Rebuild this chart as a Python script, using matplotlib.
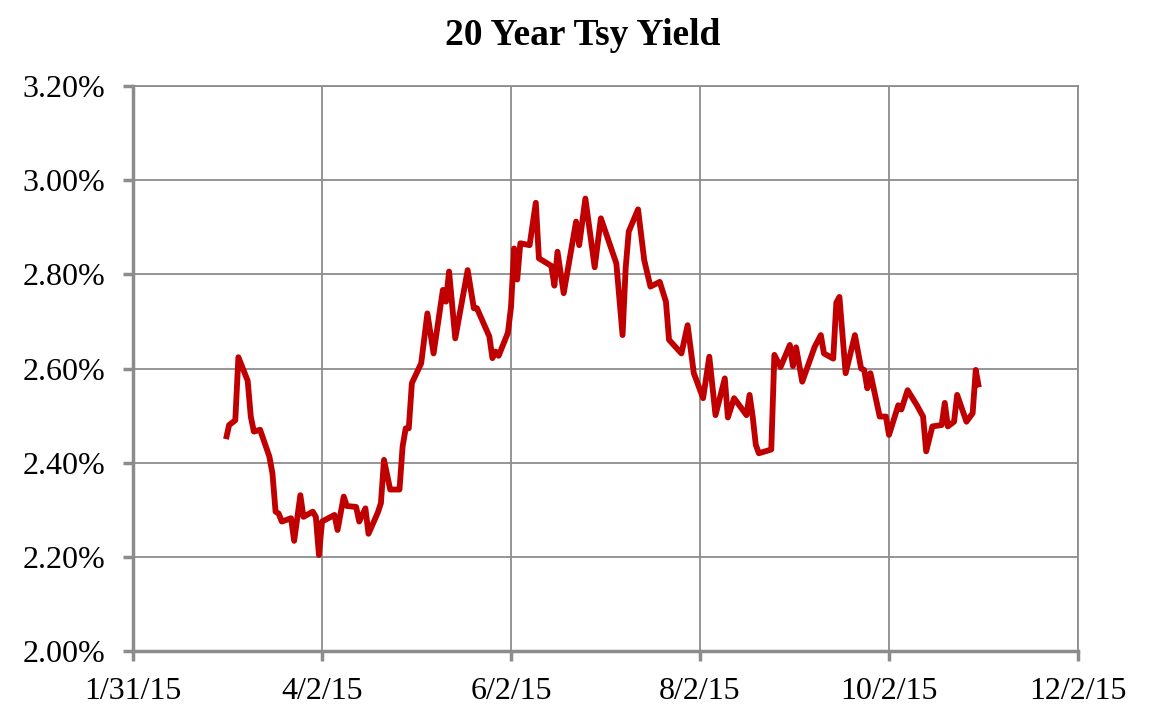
import pandas as pd
import matplotlib
matplotlib.use("Agg")
import matplotlib.pyplot as plt
import matplotlib.dates as mdates
from matplotlib.ticker import FuncFormatter, MultipleLocator

# values (2015 dates, yield in %)
dates = [
    "3/2", "3/3", "3/5", "3/6", "3/9", "3/10", "3/11", "3/13", "3/16", "3/17",
    "3/18", "3/19", "3/20", "3/23", "3/24", "3/26", "3/27", "3/30", "3/31", "4/1",
    "4/2", "4/6", "4/7", "4/9", "4/10", "4/13", "4/14", "4/16", "4/17", "4/20",
    "4/21", "4/22", "4/24", "4/27", "4/28", "4/29", "4/30", "5/1", "5/4", "5/6",
    "5/8", "5/11", "5/12", "5/13", "5/15", "5/19", "5/21", "5/22", "5/26", "5/27",
    "5/28", "5/29", "6/1", "6/2", "6/3", "6/4", "6/5", "6/8", "6/10", "6/11",
    "6/15", "6/16", "6/17", "6/19", "6/23", "6/24", "6/26", "6/29", "7/1", "7/6",
    "7/8", "7/9", "7/10", "7/13", "7/15", "7/17", "7/20", "7/22", "7/23", "7/27",
    "7/29", "7/31", "8/3", "8/5", "8/7", "8/10", "8/11", "8/13", "8/17", "8/18",
    "8/19", "8/20", "8/21", "8/25", "8/26", "8/28", "8/31", "9/1", "9/2", "9/4",
    "9/8", "9/10", "9/11", "9/14", "9/15", "9/16", "9/18", "9/21", "9/23", "9/24",
    "9/25", "9/26", "9/29", "10/1", "10/2", "10/5", "10/6", "10/8", "10/11", "10/13",
    "10/14", "10/16", "10/19", "10/20", "10/21", "10/23", "10/24", "10/27", "10/29", "10/30",
    "10/31",
]
yields = [
    2.450, 2.480, 2.490, 2.624, 2.574, 2.498, 2.466, 2.470, 2.413, 2.377,
    2.296, 2.292, 2.275, 2.282, 2.234, 2.331, 2.285, 2.296, 2.285, 2.204,
    2.275, 2.289, 2.257, 2.328, 2.308, 2.306, 2.275, 2.303, 2.249, 2.294,
    2.314, 2.406, 2.343, 2.343, 2.434, 2.473, 2.473, 2.569, 2.611, 2.717,
    2.632, 2.767, 2.742, 2.806, 2.664, 2.809, 2.728, 2.728, 2.668, 2.622,
    2.636, 2.627, 2.676, 2.731, 2.855, 2.789, 2.866, 2.862, 2.952, 2.834,
    2.818, 2.776, 2.848, 2.760, 2.912, 2.862, 2.961, 2.815, 2.919, 2.823,
    2.671, 2.813, 2.891, 2.938, 2.830, 2.774, 2.784, 2.742, 2.661, 2.632,
    2.692, 2.590, 2.537, 2.625, 2.501, 2.579, 2.496, 2.537, 2.501, 2.544,
    2.498, 2.438, 2.420, 2.428, 2.629, 2.603, 2.650, 2.605, 2.645, 2.572,
    2.646, 2.671, 2.632, 2.621, 2.740, 2.752, 2.590, 2.671, 2.600, 2.597,
    2.558, 2.590, 2.498, 2.498, 2.459, 2.522, 2.513, 2.554, 2.522, 2.498,
    2.424, 2.477, 2.480, 2.527, 2.477, 2.487, 2.544, 2.487, 2.505, 2.597,
    2.560,
]
x_ticks = ["1/31/15", "4/2/15", "6/2/15", "8/2/15", "10/2/15", "12/2/15"]

x = pd.to_datetime([d + "/2015" for d in dates], format="%m/%d/%Y")
ticks = pd.to_datetime(x_ticks, format="%m/%d/%y")

plt.rcParams["font.family"] = ["Liberation Serif", "DejaVu Serif"]

fig = plt.figure(figsize=(11.58, 7.27), dpi=100)
ax = fig.add_axes([0.1149, 0.1045, 0.8160, 0.7772])

grid_c = "#8c8c8c"
ax.plot(x, yields, color="#c00000", linewidth=4.2, solid_joinstyle="round",
        solid_capstyle="butt", zorder=3)

ax.set_xlim(ticks[0], ticks[-1])
ax.set_ylim(2.0, 3.2)
ax.set_xticks(ticks)
ax.xaxis.set_major_formatter(mdates.DateFormatter("%-m/%-d/%y"))
ax.yaxis.set_major_locator(MultipleLocator(0.2))
ax.yaxis.set_major_formatter(FuncFormatter(lambda v, p: f"{v:.2f}%"))

ax.grid(True, color=grid_c, linewidth=1.3, zorder=0)
for side in ["top", "right"]:
    ax.spines[side].set_color(grid_c)
    ax.spines[side].set_linewidth(1.3)
for side in ["left", "bottom"]:
    ax.spines[side].set_color(grid_c)
    ax.spines[side].set_linewidth(2.5)

ax.tick_params(axis="both", colors=grid_c, labelcolor="black", labelsize=23,
               length=7, width=2.5, direction="out")
ax.tick_params(axis="y", pad=13)
ax.tick_params(axis="x", pad=12)

fig.text(0.5035, 1 - 45 / 727, "20 Year Tsy Yield", ha="center", va="baseline",
         fontsize=27, fontweight="bold")

fig.savefig("out.png", dpi=100)
